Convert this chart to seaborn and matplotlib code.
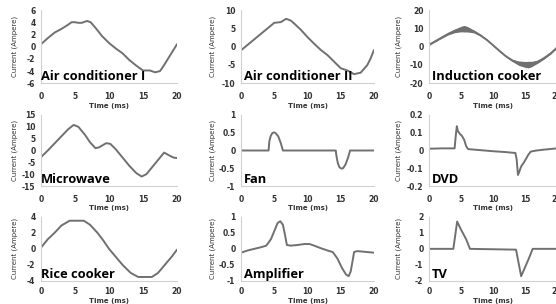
import matplotlib
matplotlib.use("Agg")
import matplotlib.pyplot as plt  # Graph creation
import seaborn as sns  # Graph visualisation

# Current waveforms over one 20 ms cycle
ac1_t = [0, 1, 2, 3, 4, 4.5, 5, 5.5, 6, 6.5, 6.8, 7.3, 8, 9, 10, 11, 12, 13, 14, 15, 16, 16.8, 17.5, 18, 19, 20]
ac1_i = [0.4, 1.4, 2.3, 2.9, 3.6, 4.0, 4.0, 3.9, 3.9, 4.1, 4.2, 4.0, 3.1, 1.7, 0.6, -0.3, -1.1, -2.2, -3.1, -3.9,
         -3.9, -4.2, -4.0, -3.2, -1.4, 0.4]

ac2_t = [0, 1, 2, 3, 4, 5, 6, 6.8, 7.5, 8, 9, 10, 11, 12, 13, 14, 15, 16, 17, 18, 19, 19.5, 20]
ac2_i = [-1.0, 0.5, 2.0, 3.5, 5.0, 6.5, 6.7, 7.6, 7.1, 6.3, 4.6, 2.6, 0.8, -0.9, -2.3, -4.1, -5.9, -6.5, -7.5,
         -7.1, -5.0, -3.2, -0.9]

ic_t = [0, 1, 2, 3, 4, 5, 5.5, 6, 7, 8, 9, 10, 11, 12, 13, 14, 15, 15.5, 16, 17, 18, 19, 20]
ic_i = [1, 3, 5, 7, 8.6, 9.6, 9.8, 9.5, 8.3, 6.3, 3.8, 0.8, -2.3, -5.2, -7.5, -9.0, -9.7, -9.8, -9.5, -8.2,
        -6.2, -3.7, -0.5]
ic_noise = [0.3, 0.3, 0.4, 0.6, 1.0, 1.5, 1.8, 1.5, 0.8, 0.5, 0.4, 0.3, 0.3, 0.4, 0.6, 1.2, 1.6, 1.8, 1.5, 0.8,
            0.5, 0.4, 0.3]

mw_t = [0, 1, 2, 3, 4, 4.8, 5.5, 6.5, 7.2, 8, 8.5, 9.6, 10.2, 11, 12, 13, 14, 14.8, 15.5, 16.5, 17.5, 18.1,
        19, 19.5, 20]
mw_i = [-2.8, 0, 3.0, 6.0, 9.0, 10.8, 10, 6.5, 3.5, 1.0, 1.3, 3.1, 2.8, 0.5, -3.0, -6.5, -9.5, -11.0, -10,
        -6.5, -3, -0.9, -2.3, -3.0, -3.2]

fan_t = [0, 4.15, 4.25, 4.45, 4.7, 4.95, 5.2, 5.6, 6.0, 6.3, 14.25, 14.35, 14.55, 14.8, 15.1, 15.35, 15.7,
         16.1, 16.4, 20]
fan_i = [0, 0, 0.25, 0.4, 0.49, 0.51, 0.49, 0.4, 0.2, 0, 0, -0.15, -0.35, -0.47, -0.51, -0.5, -0.4, -0.2, 0, 0]

dvd_t = [0, 2, 4.0, 4.2, 4.35, 4.5, 4.9, 5.1, 5.5, 5.8, 6.1, 8, 10, 12, 13.5, 13.7, 13.9, 14.1, 14.4, 14.9,
         15.5, 15.9, 16.8, 18, 20]
dvd_i = [0.01, 0.012, 0.012, 0.09, 0.137, 0.11, 0.09, 0.085, 0.06, 0.025, 0.008, 0.002, -0.004, -0.009,
         -0.014, -0.05, -0.138, -0.12, -0.09, -0.063, -0.025, -0.006, 0.0, 0.005, 0.012]

rc_t = [0, 1, 2, 3, 4.2, 5, 6.3, 7.2, 8.3, 9.2, 10, 11, 12, 13.2, 14.3, 15, 16.3, 17.2, 18.2, 19.2, 20]
rc_i = [0.15, 1.2, 2.0, 2.9, 3.5, 3.5, 3.5, 3.0, 2.0, 1.0, 0.0, -1.0, -2.0, -3.0, -3.5, -3.5, -3.5, -3.0,
        -2.0, -1.0, -0.1]

amp_t = [0, 1, 2, 3, 3.8, 4.5, 5.0, 5.5, 5.9, 6.3, 6.6, 6.9, 7.5, 8.5, 9.5, 10.3, 11, 12, 13, 13.8, 14.5,
         15.2, 15.8, 16.2, 16.5, 16.8, 17.0, 17.5, 18.5, 19.5, 20]
amp_i = [-0.12, -0.05, 0.0, 0.05, 0.1, 0.3, 0.55, 0.8, 0.86, 0.75, 0.45, 0.12, 0.1, 0.12, 0.15, 0.15, 0.1,
         0.02, -0.05, -0.1, -0.3, -0.6, -0.8, -0.85, -0.7, -0.35, -0.1, -0.07, -0.09, -0.11, -0.12]

tv_t = [0, 3.8, 4.4, 5.0, 5.8, 6.4, 13.6, 14.4, 15.0, 15.6, 16.2, 20]
tv_i = [0, 0, 1.7, 1.2, 0.6, 0, -0.05, -1.7, -1.15, -0.6, 0, 0]

# Panel names and y ticks, in reading order
names = ['Air conditioner I', 'Air conditioner II', 'Induction cooker',
         'Microwave', 'Fan', 'DVD',
         'Rice cooker', 'Amplifier', 'TV']
yticks = [[-6, -4, -2, 0, 2, 4, 6], [-10, -5, 0, 5, 10], [-20, -10, 0, 10, 20],
          [-15, -10, -5, 0, 5, 10, 15], [-1, -0.5, 0, 0.5, 1], [-0.2, -0.1, 0, 0.1, 0.2],
          [-4, -2, 0, 2, 4], [-1, -0.5, 0, 0.5, 1], [-2, -1, 0, 1, 2]]
series = [(ac1_t, ac1_i), (ac2_t, ac2_i), (ic_t, ic_i),
          (mw_t, mw_i), (fan_t, fan_i), (dvd_t, dvd_i),
          (rc_t, rc_i), (amp_t, amp_i), (tv_t, tv_i)]
xticks = [0, 5, 10, 15, 20]

sns.set_style('white')
plt.rcParams['axes.unicode_minus'] = False
plt.rcParams['font.family'] = ['DejaVu Sans']

fig = plt.figure(figsize=(5.56, 3.04), dpi=100)
line_col = '#707070'
spine_col = '#d0d0d0'

# axes boxes in pixels (left, width) per column and (top, bottom) per row
cols = [(41, 136), (241, 133), (429, 128)]
rows = [(10, 83.3), (115, 186), (216.7, 281)]
ylab_off = [23, 25, 27]
W, H = 556, 304

for k in range(9):
    r, c = divmod(k, 3)
    left, width = cols[c]
    top, bottom = rows[r]
    ax = fig.add_axes([left / W, 1 - bottom / H, width / W, (bottom - top) / H])
    t, i = series[k]
    if k == 2:
        lo = [a - b for a, b in zip(ic_i, ic_noise)]
        hi = [a + b for a, b in zip(ic_i, ic_noise)]
        ax.fill_between(ic_t, lo, hi, color=line_col, linewidth=0)
    sns.lineplot(x=t, y=i, ax=ax, color=line_col, linewidth=1.4)
    ax.set_xlim(0, 20)
    yt = yticks[k]
    ax.set_ylim(yt[0], yt[-1])
    ax.set_xticks(xticks)
    ax.set_yticks(yt)
    ax.set_yticklabels(['%g' % v for v in yt])
    for s in ['top', 'right']:
        ax.spines[s].set_visible(False)
    for s in ['left', 'bottom']:
        ax.spines[s].set_color(spine_col)
        ax.spines[s].set_linewidth(0.8)
    ax.tick_params(axis='x', length=0, pad=6.5 if r < 2 else 4.5, labelsize=5.5, labelcolor='#333333')
    ax.tick_params(axis='y', length=2, width=0.6, color=spine_col, pad=2, labelsize=5.5,
                   labelcolor='#333333')
    for lab in ax.get_xticklabels() + ax.get_yticklabels():
        lab.set_fontweight('bold')
    ax.set_xlabel('Time (ms)', fontsize=5, fontweight='bold', color='#333333', labelpad=1)
    ax.set_ylabel('Current (Ampere)', fontsize=5, color='#333333')
    ax.yaxis.set_label_coords(-ylab_off[c] / width, 0.5)
    ax.text(0.02 if c else 0.0, 0.04, names[k], transform=ax.transAxes, fontsize=9.3,
            fontweight='bold', family='Open Sans', color='black', va='baseline', ha='left')

fig.savefig('out.png', dpi=100)
